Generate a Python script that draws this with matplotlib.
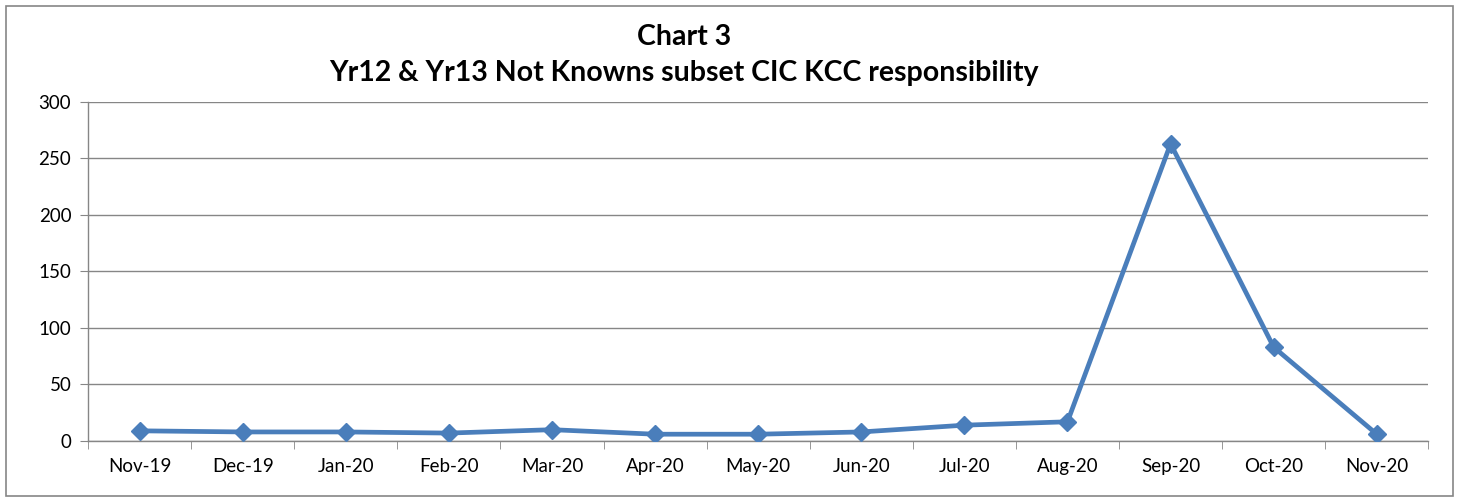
import matplotlib.pyplot as plt
from matplotlib.patches import Rectangle

months = ["Nov-19", "Dec-19", "Jan-20", "Feb-20", "Mar-20", "Apr-20", "May-20",
          "Jun-20", "Jul-20", "Aug-20", "Sep-20", "Oct-20", "Nov-20"]
values = [9, 8, 8, 7, 10, 6, 6, 8, 14, 17, 263, 83, 6]
y_ticks = [0, 50, 100, 150, 200, 250, 300]

plt.rcParams['font.family'] = ['Lato', 'DejaVu Sans']

fig = plt.figure(figsize=(14.59, 4.97), dpi=100)
ax = fig.add_axes([0.0603, 0.1127, 0.9187, 0.6821])

x = list(range(len(months)))
ax.plot(x, values, color="#4A7EBB", linewidth=3.4, marker="D", markersize=9,
        markerfacecolor="#4A7EBB", markeredgecolor="#4A7EBB", zorder=3)

ax.set_xlim(-0.5, len(months) - 0.5)
ax.set_ylim(0, 300)
ax.set_yticks(y_ticks)
ax.set_yticklabels([str(v) for v in y_ticks], fontsize=13.5)
ax.yaxis.grid(True, color="#868686", linewidth=1)
ax.set_axisbelow(True)

# category labels at centres, tick marks at boundaries (Excel style)
ax.set_xticks(x)
ax.set_xticklabels(months, fontsize=13.5)
ax.tick_params(axis="x", which="major", length=0, pad=12)
ax.set_xticks([i - 0.5 for i in range(len(months) + 1)], minor=True)
ax.tick_params(axis="x", which="minor", length=6, color="#868686", direction="out")
ax.tick_params(axis="y", length=6, color="#868686", direction="out", pad=6)

for side in ["top", "right"]:
    ax.spines[side].set_visible(False)
for side in ["left", "bottom"]:
    ax.spines[side].set_color("#868686")
    ax.spines[side].set_linewidth(1)

fig.text(0.469, 0.926, "Chart 3", ha="center", va="center", fontsize=20.5, fontweight="bold")
fig.text(0.469, 0.853, "Yr12 & Yr13 Not Knowns subset CIC KCC responsibility",
         ha="center", va="center", fontsize=20.5, fontweight="bold")

fig.patches.append(Rectangle((0.004, 0.002), 0.992, 0.986, transform=fig.transFigure,
                             fill=False, edgecolor="#868686", linewidth=1.2))

fig.savefig("out.png", dpi=100)
